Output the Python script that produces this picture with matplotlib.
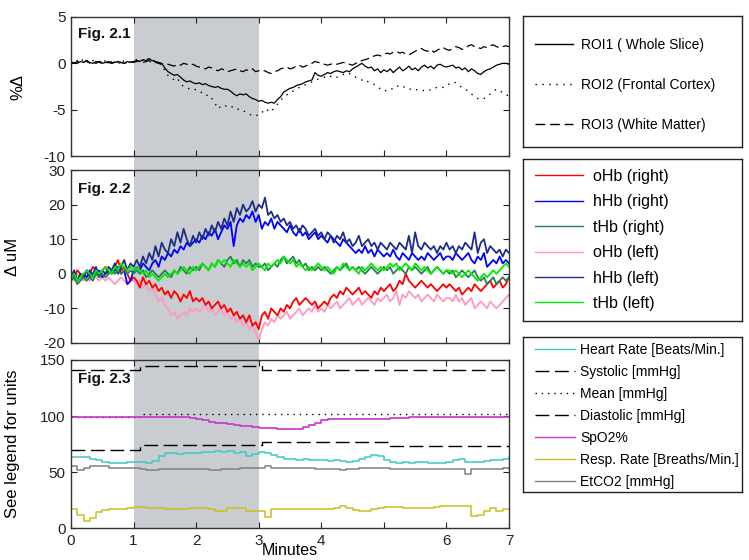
import numpy as np
import matplotlib
matplotlib.use("Agg")
import matplotlib.pyplot as plt
import matplotlib.transforms as mtrans
from matplotlib.patches import Rectangle

plt.rcParams['font.family'] = ['Liberation Sans', 'DejaVu Sans']
plt.rcParams['axes.unicode_minus'] = False

# ---------------- data ----------------
t_fine = np.linspace(0, 7, 141)   # 0.05 min samples
t_coarse = np.linspace(0, 7, 71)  # 0.1 min samples

roi1 = [0.0,0.1,0.0,0.2,0.1,0.3,0.1,0.0,0.2,0.1,0.0,0.1,0.2,0.0,0.1,0.2,0.1,0.0,0.2,0.1,0.2,
        0.3,0.2,0.4,0.3,0.5,0.3,0.2,0.1,0.0,-0.5,-0.9,-1.1,-1.3,-1.2,-1.5,-1.8,-2.0,-1.9,-2.1,-2.2,
        -2.1,-2.3,-2.2,-2.4,-2.5,-2.6,-2.5,-2.7,-2.8,-2.8,-3.0,-3.3,-3.5,-3.3,-3.4,-3.3,-3.6,-3.8,-3.9,-4.1,
        -4.0,-4.2,-4.3,-4.2,-4.3,-3.9,-3.6,-3.1,-2.9,-2.7,-2.6,-2.4,-2.3,-2.2,-2.0,-1.9,-1.8,-1.0,-1.3,-1.4,
        -1.2,-1.0,-1.1,-0.9,-0.8,-0.9,-1.0,-0.8,-0.9,-0.6,-0.4,-0.2,0.0,-0.3,-0.5,-0.4,-0.8,-0.6,-1.0,-0.7,
        -0.9,-0.6,-1.0,-0.7,-0.4,-0.8,-0.6,-0.3,-0.7,-0.5,-0.8,-0.4,-0.2,-0.5,-0.3,-0.6,-0.2,-0.1,-0.3,-0.4,
        -0.3,-0.2,-0.5,-0.4,-0.7,-0.5,-0.9,-0.6,-0.8,-1.1,-1.2,-0.9,-0.7,-0.6,-0.4,-0.2,-0.1,0.0,0.0,-0.1]
roi2 = [0.2,0.0,0.3,0.1,0.5,0.2,0.0,0.3,0.1,0.2,0.0,0.3,0.1,0.2,0.0,0.2,0.1,0.3,0.2,0.1,0.3,
        0.4,0.5,0.3,0.6,0.4,0.2,0.3,0.1,-0.2,-0.8,-1.3,-1.5,-1.8,-1.6,-2.2,-2.5,-2.6,-2.8,-2.9,-2.8,
        -3.0,-3.2,-3.5,-3.4,-3.8,-4.3,-4.9,-4.6,-4.5,-4.7,-4.6,-4.8,-5.0,-4.9,-5.1,-5.3,-5.5,-5.6,-5.7,-5.5,
        -5.2,-5.4,-5.0,-5.2,-4.8,-4.4,-4.0,-3.6,-3.4,-3.1,-3.0,-2.8,-2.6,-2.4,-2.3,-2.2,-2.0,-1.8,-1.7,-1.6,
        -1.5,-1.3,-1.4,-1.6,-1.5,-1.4,-1.2,-1.0,-1.1,-1.3,-1.5,-1.6,-1.8,-1.7,-2.0,-2.1,-2.3,-2.5,-2.8,-3.0,
        -2.9,-2.7,-2.8,-2.5,-2.4,-2.6,-2.5,-2.7,-2.9,-2.8,-2.9,-3.0,-2.9,-2.8,-2.9,-2.7,-2.6,-2.5,-2.6,-2.4,
        -2.2,-2.0,-2.1,-2.4,-2.6,-2.8,-3.0,-3.3,-3.6,-3.8,-3.9,-3.8,-3.6,-3.3,-3.0,-2.8,-2.9,-3.2,-3.4,-3.5]
roi3 = [0.1,0.0,0.2,0.0,0.1,0.3,0.0,0.1,0.0,0.2,0.1,0.0,0.1,0.0,0.2,0.0,0.1,0.0,0.1,0.2,0.1,
        0.2,0.3,0.1,0.2,0.3,0.0,0.1,0.0,-0.1,0.0,-0.1,-0.2,-0.3,-0.1,-0.2,0.0,-0.1,-0.2,-0.1,-0.3,
        -0.4,-0.5,-0.6,-0.4,-0.5,-0.7,-0.8,-0.6,-0.7,-0.9,-0.8,-0.7,-0.6,-0.8,-0.9,-0.7,-0.8,-0.6,-0.9,-0.8,
        -0.9,-0.8,-1.0,-1.1,-0.9,-0.8,-0.6,-0.5,-0.4,-0.6,-0.5,-0.3,-0.2,-0.4,-0.3,-0.1,0.0,0.2,0.1,0.0,
        -0.1,-0.2,-0.1,0.0,-0.1,0.0,0.1,0.0,-0.1,-0.2,0.0,0.1,0.3,0.4,0.5,0.7,0.8,0.9,0.8,1.0,
        1.1,1.0,1.2,1.3,1.1,1.2,1.0,0.9,1.1,1.3,1.5,1.6,1.4,1.3,1.5,1.2,1.4,1.6,1.7,1.5,
        1.4,1.6,1.8,1.7,1.5,1.6,1.9,2.0,1.8,1.7,1.6,1.8,1.7,1.9,2.0,1.8,1.7,1.8,1.9,1.8]

ohb_right = [0,-1,1,0,-1,1,0,2,1,0,1,2,0,1,2,4,1,2,0,-2,-1,
             -2,-4,-1,-3,-2,-4,-3,-5,-4,-6,-5,-7,-5,-6,-8,-6,-7,-5,-8,-7,
             -8,-7,-9,-8,-10,-9,-8,-10,-9,-11,-10,-12,-11,-13,-12,-14,-12,-15,-14,-16,
             -12,-11,-13,-10,-11,-12,-10,-11,-9,-10,-8,-7,-9,-8,-7,-8,-9,-8,-10,-9,
             -8,-9,-7,-6,-7,-5,-6,-4,-5,-6,-5,-4,-6,-5,-6,-7,-5,-6,-4,-5,
             -4,-3,-5,-4,-2,-3,0,-2,-3,-4,-3,-2,-3,-4,-3,-4,-5,-4,-3,-4,
             -3,-4,-5,-4,-6,-5,-4,-5,-3,-4,-5,-4,-3,-2,-4,-3,-2,-4,-3,-1]
hhb_right = [-1,0,-2,-1,0,-1,1,-1,0,1,-1,0,1,0,1,2,0,1,-3,-2,1,
             2,1,3,2,1,3,4,2,5,4,6,5,7,6,8,7,9,8,9,10,
             9,11,10,12,11,13,10,12,14,13,15,8,14,16,15,17,16,18,15,17,
             13,15,14,16,13,15,14,13,12,14,12,11,13,11,12,10,11,12,10,11,
             10,9,11,10,9,8,10,9,8,7,6,7,6,8,6,7,5,7,6,5,
             6,5,7,5,4,6,5,4,6,5,4,5,4,6,5,4,5,6,4,5,
             5,4,6,5,4,5,6,4,3,5,4,6,2,3,4,3,5,3,4,3]
thb_right = [-2,-1,-3,-2,-1,-2,-1,-2,0,-1,0,-1,0,1,0,1,0,1,0,1,0,
             1,0,1,-1,0,1,0,-1,0,1,0,-1,1,0,2,1,0,2,1,2,
             1,3,2,1,3,2,4,3,2,4,5,3,4,2,4,3,4,2,3,2,
             2,3,1,2,3,2,4,5,3,4,5,3,4,2,3,1,2,1,2,1,
             2,1,0,1,2,1,2,3,1,2,1,2,1,0,1,2,1,0,1,2,
             1,2,0,1,2,1,0,2,1,2,1,0,1,2,0,1,2,1,0,1,
             0,1,-1,0,1,0,-1,0,1,-1,-2,-1,-3,-2,-1,-3,-2,-1,-2,-1]
ohb_left = [-1,-2,0,-1,-2,-1,-2,0,-1,-2,-1,-2,-1,-2,-3,-2,-1,-2,-3,-2,-2,
            -3,-2,-4,-3,-5,-4,-6,-8,-7,-9,-10,-12,-11,-13,-12,-11,-12,-10,-11,-10,
            -11,-10,-9,-11,-10,-12,-11,-10,-12,-11,-13,-12,-14,-13,-15,-14,-16,-15,-17,-19,
            -16,-14,-15,-13,-14,-12,-13,-12,-11,-13,-12,-11,-10,-12,-11,-10,-11,-9,-11,-10,
            -11,-9,-10,-9,-8,-10,-9,-8,-7,-9,-8,-7,-9,-8,-7,-8,-9,-7,-8,-7,
            -6,-8,-7,-5,-9,-6,-7,-5,-6,-7,-6,-8,-7,-6,-7,-8,-6,-7,-8,-7,
            -7,-8,-6,-8,-7,-9,-8,-7,-10,-9,-8,-9,-10,-8,-9,-10,-9,-8,-7,-6]
hhb_left = [-1,1,-2,0,-1,1,-1,0,2,-1,1,0,2,1,3,0,2,4,1,3,2,
            4,2,5,3,6,4,8,5,9,7,6,10,8,12,9,13,10,8,11,9,
            12,10,13,11,14,12,15,13,16,14,18,15,19,17,20,18,19,21,18,20,
            19,22,17,18,16,17,15,16,14,15,13,14,12,14,13,11,12,13,11,12,
            10,12,11,9,11,10,12,9,10,8,9,11,8,9,10,8,9,7,9,8,
            7,9,8,7,9,8,7,11,6,12,8,7,9,8,7,8,6,8,7,9,
            7,8,6,8,7,9,8,7,12,6,9,10,6,8,7,6,7,5,7,6]
thb_left = [-1,0,-2,-1,0,1,0,-1,1,0,1,2,1,0,2,1,3,2,1,2,1,
            2,1,0,1,-1,0,-1,-2,-1,0,-1,0,1,0,1,2,1,0,2,1,
            2,3,2,1,3,2,4,3,4,3,2,4,3,2,3,2,3,1,2,3,
            2,1,3,2,3,4,3,5,4,3,4,2,3,2,1,2,1,2,3,2,
            1,2,1,0,2,1,3,2,1,2,1,0,2,1,2,3,2,1,2,1,
            2,3,2,3,1,2,3,2,1,3,2,1,2,1,0,1,2,1,0,1,
            1,0,1,0,-1,0,1,0,-1,-2,-1,0,-1,0,1,0,1,2,3,2]

heart_rate = [63,63,63,62,61,59,58,58,58,59,59,59,58,60,64,67,67,66,67,67,67,
              68,68,69,68,69,67,68,64,66,68,
              67,65,63,62,62,61,62,61,61,61,
              60,61,60,59,60,62,63,65,64,61,
              59,58,59,58,59,59,58,58,58,59,
              61,62,59,59,59,60,61,61,62,63]
etco2 = [55,52,54,55,55,55,54,54,54,54,54,53,52,52,53,53,53,53,53,53,53,
         53,52,52,53,53,53,54,54,54,54,
         55,54,54,54,54,54,54,54,53,53,
         53,53,52,53,53,54,54,54,54,54,
         53,53,53,53,53,53,53,53,53,53,
         53,53,48,53,53,53,53,53,54,53]
resp_rate = [17,12,6,9,14,16,17,17,17,18,19,19,18,18,18,17,17,17,17,18,18,
             18,17,15,15,18,18,18,15,15,15,
             10,17,17,17,17,17,17,17,17,17,
             17,18,20,18,16,15,15,17,18,19,
             19,19,18,18,18,18,18,19,20,20,
             20,20,20,11,12,15,18,15,17,17]
spo2 = [99,99,99,99,99,99,99,99,99,99,99,99,99,99,99,99,99,99,99,98,97,
        96,95,94,94,93,92,91,91,90,89,
        89,89,88,88,88,88,90,92,94,96,
        97,97,97,97,97,97,97,97,97,97,
        98,98,98,99,99,99,99,99,99,99,
        99,99,99,99,99,99,99,99,99,99]
bp_t = [0, 1.1, 3.05, 5.1, 7]
systolic = [141, 145, 141, 141, 141]
mean_bp = [99, 101.5, 101.5, 101.5, 101.5]
diastolic = [70, 74.5, 77, 73, 73]

stim_start, stim_end = 1, 3
xticks = [0, 1, 2, 3, 4, 5, 6, 7]
xticklabels = ['0', '1', '2', '3', '4', '', '6', '7']

labels1 = ['ROI1 ( Whole Slice)', 'ROI2 (Frontal Cortex)', 'ROI3 (White Matter)']
labels2 = ['oHb (right)', 'hHb (right)', 'tHb (right)', 'oHb (left)', 'hHb (left)', 'tHb (left)']
labels3 = ['Heart Rate [Beats/Min.]', 'Systolic [mmHg]', 'Mean [mmHg]', 'Diastolic [mmHg]',
           'SpO2%', 'Resp. Rate [Breaths/Min.]', 'EtCO2 [mmHg]']

# ---------------- figure ----------------
fig = plt.figure(figsize=(7.49, 5.6), dpi=100)
W, H = 749.0, 560.0

def fax(l, t, r, b):
    return fig.add_axes([l / W, 1 - b / H, (r - l) / W, (b - t) / H])

ax1 = fax(71, 17, 509, 156)
ax2 = fax(71, 170, 509, 343)
ax3 = fax(71, 360, 509, 528)

for ax in (ax1, ax2, ax3):
    ax.set_facecolor('none')
    ax.set_xlim(0, 7)
    ax.set_xticks(xticks)
    ax.tick_params(direction='in', top=True, right=True, length=4, width=0.8,
                   labelsize=11, pad=4, colors='#222222')
    for s in ax.spines.values():
        s.set_color('#333333')
        s.set_linewidth(1.0)

# panel 1
l_r1, = ax1.plot(t_fine, roi1, color='black', lw=0.9)
l_r2, = ax1.plot(t_fine, roi2, color='black', lw=1.0, linestyle=(0, (1, 4)))
l_r3, = ax1.plot(t_fine, roi3, color='black', lw=0.9, linestyle=(0, (7, 3.5)))
ax1.set_ylim(-10, 5)
ax1.set_yticks([-10, -5, 0, 5])
ax1.set_xticklabels([])
ax1.set_ylabel('%Δ', fontsize=12)
ax1.yaxis.set_label_coords(-0.105, 0.5)

# panel 2
cols2 = ['#ff0000', '#0000ff', '#2b7d52', '#ff99c0', '#1c2e88', '#00ee00']
series2 = [ohb_right, hhb_right, thb_right, ohb_left, hhb_left, thb_left]
order = [3, 0, 1, 4, 2, 5]
lines2 = [None] * 6
for i in order:
    lines2[i], = ax2.plot(t_fine, series2[i], color=cols2[i], lw=1.3)
ax2.set_ylim(-20, 30)
ax2.set_yticks([-20, -10, 0, 10, 20, 30])
ax2.set_xticklabels([])
ax2.set_ylabel('Δ uM', fontsize=12)
ax2.yaxis.set_label_coords(-0.116, 0.5)

# panel 3
l_hr, = ax3.plot(t_coarse, heart_rate, color='#3cc8c8', lw=1.1, drawstyle='steps-post')
l_sys, = ax3.plot(bp_t, systolic, color='black', lw=1.0, drawstyle='steps-post',
                  linestyle=(0, (10, 4)))
l_mean, = ax3.plot(bp_t, mean_bp, color='black', lw=1.0, drawstyle='steps-post',
                   linestyle=(0, (1, 3.5)))
l_dia, = ax3.plot(bp_t, diastolic, color='black', lw=1.0, drawstyle='steps-post',
                  linestyle=(0, (10, 4)))
l_spo2, = ax3.plot(t_coarse, spo2, color='#cc33cc', lw=1.2, drawstyle='steps-post')
l_resp, = ax3.plot(t_coarse, resp_rate, color='#c8bf1e', lw=1.1, drawstyle='steps-post')
l_et, = ax3.plot(t_coarse, etco2, color='#808080', lw=1.1, drawstyle='steps-post')
ax3.set_ylim(0, 150)
ax3.set_yticks([0, 50, 100, 150])
ax3.set_xticklabels(xticklabels)
ax3.set_ylabel('See legend for units', fontsize=12)
ax3.yaxis.set_label_coords(-0.116, 0.5)
ax3.set_xlabel('Minutes', fontsize=11.5, labelpad=-3)

for ax, txt in ((ax1, 'Fig. 2.1'), (ax2, 'Fig. 2.2'), (ax3, 'Fig. 2.3')):
    ax.text(0.017, 0.93, txt, transform=ax.transAxes, fontsize=11, fontweight='bold',
            va='top', ha='left', color='#111111')

# stimulation shading spanning all panels
top = ax1.get_position().y1
bot = ax3.get_position().y0
trans = mtrans.blended_transform_factory(ax3.transData, fig.transFigure)
fig.patches.append(Rectangle((stim_start, bot), stim_end - stim_start, top - bot,
                             transform=trans, facecolor='#c9cdd1', edgecolor='none',
                             zorder=-1))

# legend boxes
def legend_box(l, t, r, b, handles, labels, fs, hl, htp, ls, pad_px, anchor_y):
    bx = fax(l, t, r, b)
    bx.set_xticks([])
    bx.set_yticks([])
    for s in bx.spines.values():
        s.set_color('#222222')
        s.set_linewidth(1.0)
    fs_px = fs * 100 / 72.0
    leg = bx.legend(handles, labels, loc='center left', bbox_to_anchor=(0, anchor_y),
                    frameon=False, handlelength=hl, handletextpad=htp,
                    labelspacing=ls, borderpad=0, borderaxespad=pad_px / fs_px,
                    prop={'size': fs})
    for ln in leg.get_lines():
        ln.set_linewidth(1.0)
    return bx

legend_box(523, 16, 742, 147, [l_r1, l_r2, l_r3], labels1, 10, 2.73, 0.58, 1.86, 12, 0.475)
legend_box(523, 159, 742, 321, lines2, labels2, 11.5, 3.0, 0.62, 0.65, 12, 0.5)
legend_box(523, 337, 742, 492, [l_hr, l_sys, l_mean, l_dia, l_spo2, l_resp, l_et], labels3,
           10, 2.88, 0.36, 0.58, 12, 0.49)

fig.savefig('out.png', dpi=100, facecolor='white')
